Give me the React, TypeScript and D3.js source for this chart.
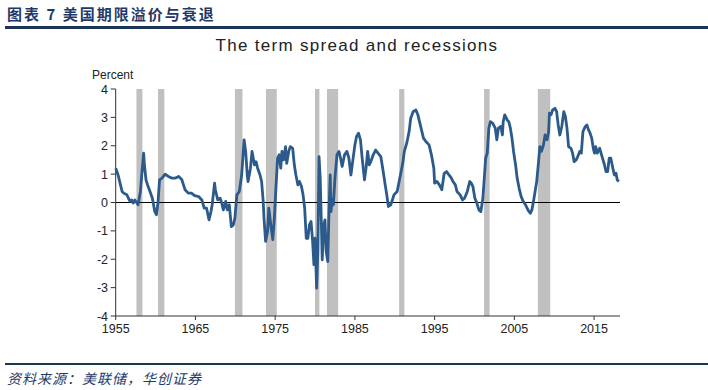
import React from 'react';
import * as d3 from 'd3';

// recession periods (start, end), decimal years
const recessions: [number, number][] = [
  [1957.6, 1958.35], [1960.3, 1961.1], [1969.95, 1970.9], [1973.85, 1975.2],
  [1980.0, 1980.55], [1981.5, 1982.9], [1990.55, 1991.2], [2001.2, 2001.9],
  [2007.95, 2009.5],
];

// term spread, percent
const termSpread: [number, number][] = [
  [1955.0, 1.21], [1955.3, 0.97], [1955.6, 0.62], [1955.8, 0.39], [1956.0, 0.33],
  [1956.4, 0.27], [1956.6, 0.15], [1956.8, 0.04], [1957.0, 0.09], [1957.2, -0.02],
  [1957.4, 0.09], [1957.8, -0.08], [1958.1, 0.39], [1958.3, 1.09], [1958.5, 1.74],
  [1958.6, 1.33], [1958.8, 0.8], [1959.0, 0.62], [1959.3, 0.39], [1959.6, 0.15],
  [1959.9, -0.32], [1960.1, -0.43], [1960.3, -0.02], [1960.5, 0.8], [1960.8, 0.86],
  [1961.2, 1.0], [1961.6, 0.92], [1962.0, 0.86], [1962.5, 0.86], [1962.9, 0.92],
  [1963.3, 0.8], [1963.5, 0.62], [1963.7, 0.45], [1964.1, 0.33], [1964.5, 0.33],
  [1964.9, 0.24], [1965.4, 0.21], [1965.8, 0.09], [1966.1, -0.2], [1966.4, -0.2],
  [1966.7, -0.61], [1966.95, -0.32], [1967.1, -0.08], [1967.4, 0.68], [1967.5, 0.45],
  [1967.8, 0.09], [1968.1, 0.15], [1968.3, -0.02], [1968.5, -0.26], [1968.8, 0.04],
  [1969.0, -0.26], [1969.25, -0.08], [1969.5, -0.85], [1969.75, -0.79], [1969.95, -0.55],
  [1970.2, 0.27], [1970.5, 0.39], [1970.8, 0.97], [1971.1, 2.21], [1971.3, 1.8],
  [1971.5, 0.97], [1971.6, 0.74], [1971.9, 1.21], [1972.1, 1.8], [1972.4, 1.33],
  [1972.6, 1.44], [1972.8, 1.21], [1973.1, 0.97], [1973.3, 0.74], [1973.5, 0.04],
  [1973.6, -0.55], [1973.8, -1.37], [1974.05, -1.02], [1974.2, -0.2], [1974.5, -0.9],
  [1974.7, -1.31], [1974.9, -0.55], [1975.05, 0.27], [1975.3, 1.56], [1975.5, 1.68],
  [1975.7, 1.21], [1975.85, 1.8], [1976.05, 1.5], [1976.3, 1.97], [1976.45, 1.38],
  [1976.7, 1.8], [1976.9, 1.97], [1977.2, 1.91], [1977.4, 1.33], [1977.6, 0.97],
  [1977.85, 0.62], [1978.05, 0.74], [1978.3, 0.56], [1978.5, 0.27], [1978.7, -0.2],
  [1978.9, -1.26], [1979.1, -1.26], [1979.3, -0.79], [1979.5, -0.67], [1979.7, -1.37],
  [1979.86, -2.19], [1980.0, -1.26], [1980.2, -3.02], [1980.35, -1.73], [1980.5, 1.62],
  [1980.65, 0.86], [1980.8, -0.79], [1980.9, -2.02], [1981.1, -0.79], [1981.25, -0.61],
  [1981.4, -1.73], [1981.6, -2.08], [1981.75, -0.32], [1981.9, 0.97], [1982.0, -0.32],
  [1982.15, 0.09], [1982.3, -0.08], [1982.5, 0.86], [1982.75, 1.68], [1983.0, 1.8],
  [1983.2, 1.56], [1983.4, 1.27], [1983.7, 1.68], [1984.0, 1.8], [1984.25, 1.56],
  [1984.5, 0.97], [1984.75, 1.5], [1985.0, 2.03], [1985.2, 2.32], [1985.45, 2.44],
  [1985.7, 2.21], [1985.9, 1.6], [1986.2, 0.8], [1986.4, 1.21], [1986.6, 1.8],
  [1986.8, 1.33], [1987.0, 1.44], [1987.3, 1.68], [1987.6, 1.85], [1987.9, 1.74],
  [1988.25, 1.62], [1988.55, 1.09], [1988.8, 0.62], [1989.0, 0.27], [1989.2, -0.14],
  [1989.5, -0.08], [1989.7, 0.09], [1989.9, 0.27], [1990.3, 0.39], [1990.55, 0.74],
  [1990.8, 1.09], [1991.0, 1.38], [1991.2, 1.8], [1991.5, 2.09], [1991.8, 2.5],
  [1992.0, 2.97], [1992.3, 3.2], [1992.65, 3.26], [1992.9, 3.09], [1993.3, 2.62],
  [1993.6, 2.27], [1993.9, 2.15], [1994.3, 2.03], [1994.6, 1.68], [1994.9, 1.21],
  [1995.0, 0.68], [1995.3, 0.74], [1995.6, 0.62], [1995.9, 0.45], [1996.2, 1.03],
  [1996.5, 1.09], [1996.8, 0.97], [1997.1, 0.86], [1997.3, 0.74], [1997.6, 0.62],
  [1997.8, 0.39], [1998.2, 0.27], [1998.5, 0.09], [1998.75, 0.15], [1999.1, 0.39],
  [1999.4, 0.74], [1999.6, 0.68], [1999.8, 0.56], [2000.05, 0.15], [2000.3, -0.02],
  [2000.55, -0.26], [2000.8, -0.32], [2001.05, 0.15], [2001.2, 0.74], [2001.4, 1.56],
  [2001.6, 1.74], [2001.8, 2.62], [2002.0, 2.85], [2002.3, 2.79], [2002.6, 2.62],
  [2002.8, 2.21], [2003.0, 2.62], [2003.3, 2.68], [2003.5, 2.38], [2003.6, 2.85],
  [2003.8, 3.09], [2004.1, 2.91], [2004.3, 2.85], [2004.5, 2.62], [2004.7, 2.27],
  [2004.9, 1.8], [2005.15, 1.33], [2005.35, 0.86], [2005.6, 0.5], [2005.85, 0.21],
  [2006.1, 0.04], [2006.4, -0.08], [2006.7, -0.26], [2007.0, -0.38], [2007.2, -0.26],
  [2007.4, 0.04], [2007.6, 0.39], [2007.8, 0.74], [2008.0, 1.33], [2008.2, 1.97],
  [2008.4, 1.8], [2008.65, 2.03], [2008.85, 2.38], [2009.1, 2.21], [2009.3, 2.5],
  [2009.4, 3.15], [2009.6, 3.09], [2009.8, 3.26], [2010.1, 3.32], [2010.3, 3.2],
  [2010.5, 2.73], [2010.7, 2.38], [2010.95, 2.68], [2011.2, 3.2], [2011.4, 3.03],
  [2011.6, 2.62], [2011.8, 1.97], [2012.1, 1.91], [2012.3, 1.74], [2012.5, 1.44],
  [2012.75, 1.5], [2012.95, 1.62], [2013.2, 1.8], [2013.4, 1.74], [2013.6, 2.5],
  [2013.9, 2.68], [2014.1, 2.73], [2014.3, 2.56], [2014.5, 2.44], [2014.7, 2.27],
  [2014.9, 1.91], [2015.05, 1.74], [2015.2, 1.97], [2015.4, 1.74], [2015.7, 1.91],
  [2016.0, 1.62], [2016.3, 1.33], [2016.5, 1.09], [2016.7, 1.09], [2016.9, 1.56],
  [2017.1, 1.56], [2017.35, 1.21], [2017.55, 0.97], [2017.75, 1.03], [2017.9, 0.8],
  [2018.1, 0.74],
];

const yearTicks = [1955, 1965, 1975, 1985, 1995, 2005, 2015];
const percentTicks = [-4, -3, -2, -1, 0, 1, 2, 3, 4];

const headerText = '图表 7 美国期限溢价与衰退';
const chartTitle = 'The term spread and recessions';
const sourceText = '资料来源：美联储，华创证券';

const W = 708, H = 390;
const plot = { left: 115.7, right: 620, top: 89, bottom: 316 };
const navy = '#1c3557';
const latin = '"Liberation Sans", Arial, sans-serif';
const cjk = '"Noto Sans CJK SC", sans-serif';

export default function App() {
  const x = d3.scaleLinear().domain([1955, 2018.25]).range([plot.left, plot.right]);
  const y = d3.scaleLinear().domain([-4, 4]).range([plot.bottom, plot.top]);

  const line = d3.line<[number, number]>()
    .x(d => x(d[0]))
    .y(d => y(d[1]));

  return (
    <svg width={W} height={H} style={{ position: 'absolute', left: 0, top: 0, background: '#fff' }}>
      {/* header */}
      <text x={7} y={20} fontFamily={cjk} fontWeight={700} fontSize={15} letterSpacing={2} fill="#1f3a6a">{headerText}</text>
      <rect x={5} y={26} width={W - 5} height={3} fill={navy} />

      <text x={357} y={51} textAnchor="middle" fontFamily={latin} fontSize={17} letterSpacing={1.3} fill="#222">{chartTitle}</text>
      <text x={92} y={79} fontFamily={latin} fontSize={12} fill="#222">Percent</text>

      {/* recession bands */}
      {recessions.map(([a, b], i) => (
        <rect key={i} x={x(a)} y={plot.top} width={x(b) - x(a)} height={plot.bottom - plot.top} fill="#c0c0c0" />
      ))}

      {/* zero line */}
      <line x1={plot.left} x2={plot.right} y1={y(0)} y2={y(0)} stroke="#000" strokeWidth={1} />

      {/* y axis */}
      <line x1={plot.left} x2={plot.left} y1={plot.top} y2={plot.bottom} stroke="#333" strokeWidth={1} />
      {percentTicks.map(t => (
        <g key={t}>
          <line x1={plot.left - 5} x2={plot.left} y1={y(t)} y2={y(t)} stroke="#333" />
          <text x={108} y={y(t) + 4.5} textAnchor="end" fontFamily={latin} fontSize={12.5} fill="#222">{t}</text>
        </g>
      ))}

      {/* x axis */}
      <line x1={plot.left} x2={plot.right} y1={plot.bottom} y2={plot.bottom} stroke="#333" strokeWidth={1} />
      {yearTicks.map(t => (
        <g key={t}>
          <line x1={x(t)} x2={x(t)} y1={plot.bottom} y2={plot.bottom + 4} stroke="#333" />
          <text x={x(t)} y={333} textAnchor="middle" fontFamily={latin} fontSize={12.5} fill="#222">{t}</text>
        </g>
      ))}

      <path d={line(termSpread) ?? ''} fill="none" stroke="#2b5a8b" strokeWidth={2.8} strokeLinejoin="round" />

      {/* footer */}
      <rect x={5} y={363} width={W - 5} height={2} fill={navy} />
      <text x={7} y={384} fontFamily={cjk} fontStyle="italic" fontSize={14} letterSpacing={1} fill="#1f3a6a">{sourceText}</text>
    </svg>
  );
}
